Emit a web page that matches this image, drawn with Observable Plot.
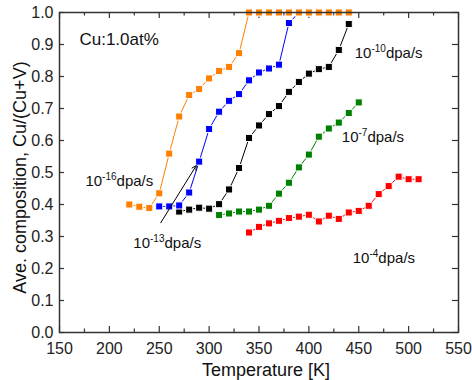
<!DOCTYPE html>
<html><head><meta charset="utf-8">
<script src="https://cdn.jsdelivr.net/npm/d3@7"></script>
<script src="https://cdn.jsdelivr.net/npm/@observablehq/plot@0.6"></script>
<style>body{margin:0;background:#fff} #chart svg{display:block}</style>
</head><body><div id="chart"></div>
<script>
// ---- data ----
const seriesNames = ["10^-4", "10^-7", "10^-10", "10^-13", "10^-16"];
const seriesColors = ["#ff0000", "#008000", "#000000", "#0000ff", "#ff8000"];

const redT = [340,350,360,370,380,390,400,410,420,430,440,450,460,470,480,490,500,510];
const redV = [0.3125,0.330,0.341,0.349,0.3575,0.362,0.368,0.347,0.365,0.355,0.375,0.380,0.396,0.4325,0.4575,0.487,0.479,0.479];

const greenT = [310,320,330,340,350,360,370,380,390,400,410,420,430,440,450];
const greenV = [0.367,0.372,0.378,0.378,0.384,0.396,0.434,0.468,0.516,0.556,0.612,0.6375,0.656,0.686,0.719];

const blackT = [270,280,290,300,310,320,330,340,350,360,370,380,390,400,410,420,430,440];
const blackV = [0.378,0.384,0.390,0.387,0.401,0.447,0.514,0.608,0.647,0.6825,0.7075,0.752,0.783,0.809,0.823,0.830,0.883,0.964];

const blueT = [250,260,270,280,290,300,310,320,330,340,350,360,370,380,390,400,410,420,430,440];
const blueV = [0.394,0.394,0.397,0.4375,0.534,0.636,0.690,0.724,0.745,0.788,0.8125,0.825,0.837,0.967,1,1,1,1,1,1];

const orangeT = [220,230,240,250,260,270,280,290,300,310,320,330,340,350,360,370,380,390,400,410,420,430,440];
const orangeV = [0.400,0.393,0.389,0.435,0.559,0.675,0.742,0.761,0.794,0.817,0.830,0.873,1,1,1,1,1,1,1,1,1,1,1];

const xMajorTicks = [150,200,250,300,350,400,450,500,550];
const xMinorTicks = [175,225,275,325,375,425,475,525];
const yTicks = [0,0.1,0.2,0.3,0.4,0.5,0.6,0.7,0.8,0.9,1.0];

const xTitle = "Temperature [K]";
const yTitle = "Ave. composition, Cu/(Cu+V)";

// annotations (data coordinates)
const labelTexts = ["Cu:1.0at%", "10^-16dpa/s", "10^-13dpa/s", "10^-10dpa/s", "10^-7dpa/s", "10^-4dpa/s"];
const labelT = [170, 176, 224, 446, 433, 444];
const labelV = [0.897, 0.459, 0.265, 0.858, 0.595, 0.217];
const arrowFrom = {T: 251.5, v: 0.343};
const arrowTo = {T: 287, v: 0.521};

// ---- build ----
const allT = [redT, greenT, blackT, blueT, orangeT];
const allV = [redV, greenV, blackV, blueV, orangeV];
const series = seriesNames.map((name, k) => ({
  name, color: seriesColors[k],
  rows: allT[k].map((T, i) => ({T, v: allV[k][i]}))
}));
const labels = labelTexts.map((text, i) => ({text, T: labelT[i], v: labelV[i]}));

const W = 472, H = 380, mt = 12, mb = 48, ml = 59, mr = 14;
const ih = H - mt - mb, iw = W - ml - mr;
const axisColor = "#333";

const marks = [];
for (const s of series) {
  marks.push(Plot.line(s.rows, {x: "T", y: "v", stroke: s.color, strokeWidth: 1}));
  marks.push(Plot.dot(s.rows, {x: "T", y: "v", symbol: "square", r: 4, fill: s.color, stroke: "white", strokeWidth: 1}));
}

const chart = Plot.plot({
  width: W, height: H,
  marginTop: mt, marginBottom: mb, marginLeft: ml, marginRight: mr,
  style: {fontFamily: "'Liberation Sans', Arial, sans-serif", fontSize: "16px", color: "#222", background: "white"},
  x: {domain: [150, 550], axis: null},
  y: {domain: [0, 1], axis: null},
  marks: [
    // inward ticks
    Plot.tickX(xMajorTicks, {x: d => d, insetTop: ih - 6, stroke: axisColor, strokeWidth: 1.2}),
    Plot.tickX(xMajorTicks, {x: d => d, insetBottom: ih - 6, stroke: axisColor, strokeWidth: 1.2}),
    Plot.tickX(xMinorTicks, {x: d => d, insetTop: ih - 3.5, stroke: axisColor, strokeWidth: 1.2}),
    Plot.tickX(xMinorTicks, {x: d => d, insetBottom: ih - 3.5, stroke: axisColor, strokeWidth: 1.2}),
    Plot.tickY(yTicks, {y: d => d, insetRight: iw - 5, stroke: axisColor, strokeWidth: 1.2}),
    Plot.tickY(yTicks, {y: d => d, insetLeft: iw - 6, stroke: axisColor, strokeWidth: 1.2}),
    // tick labels
    Plot.axisX({ticks: xMajorTicks, tickSize: 0, tickPadding: 10, label: null, fontSize: 16}),
    Plot.axisY({ticks: yTicks, tickSize: 0, tickPadding: 6, label: null, tickFormat: d3.format(".1f"), fontSize: 16}),
    // axis titles
    Plot.text([xTitle], {text: d => d, frameAnchor: "bottom", dy: 43, dx: 7, lineAnchor: "bottom", fontSize: 18, fill: "#111"}),
    Plot.text([yTitle], {text: d => d, frameAnchor: "left", rotate: -90, dx: -34, dy: 5, lineAnchor: "bottom", textAnchor: "middle", fontSize: 18, fill: "#111"}),
    ...marks,
    // arrow
    Plot.arrow([{a: arrowFrom, b: arrowTo}], {x1: d => d.a.T, y1: d => d.a.v, x2: d => d.b.T, y2: d => d.b.v, stroke: "black", strokeWidth: 1, headLength: 7}),
    // annotations
    Plot.text(labels.slice(0, 1), {x: "T", y: "v", text: "text", textAnchor: "start", lineAnchor: "bottom", fontSize: 17, fill: "#111"}),
    Plot.text(labels.slice(1), {x: "T", y: "v", text: "text", textAnchor: "start", lineAnchor: "bottom", fontSize: 15, fill: "#111"}),
    Plot.frame({stroke: axisColor, strokeWidth: 1.5})
  ]
});

// superscripts for "10^-nn"
chart.querySelectorAll("text").forEach(t => {
  const m = t.textContent.match(/^10\^(-\d+)(.*)$/);
  if (!m) return;
  t.textContent = "";
  const ns = "http://www.w3.org/2000/svg";
  const a = document.createElementNS(ns, "tspan"); a.textContent = "10";
  const b = document.createElementNS(ns, "tspan"); b.textContent = m[1];
  b.setAttribute("font-size", "10"); b.setAttribute("dy", "-6");
  const c = document.createElementNS(ns, "tspan"); c.textContent = m[2];
  c.setAttribute("dy", "6");
  t.append(a, b, c);
});

document.getElementById("chart").append(chart);
</script></body></html>
